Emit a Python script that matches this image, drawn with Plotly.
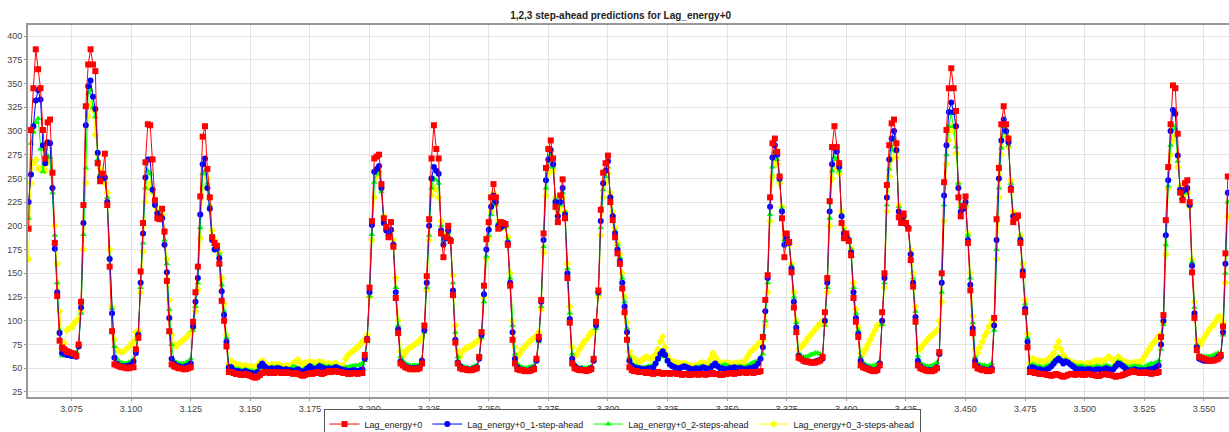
import plotly.graph_objects as go

# ---------------- data ----------------
x_start = 3057  # first observation index (shown as 3.057 in thousands)

tick_vals = [3075, 3100, 3125, 3150, 3175, 3200, 3225, 3250, 3275, 3300,
             3325, 3350, 3375, 3400, 3425, 3450, 3475, 3500, 3525, 3550]
tick_text = ["3.075", "3.100", "3.125", "3.150", "3.175", "3.200", "3.225", "3.250", "3.275", "3.300",
             "3.325", "3.350", "3.375", "3.400", "3.425", "3.450", "3.475", "3.500", "3.525", "3.550"]
y_ticks = [25, 50, 75, 100, 125, 150, 175, 200, 225, 250, 275, 300, 325, 350, 375, 400]

series_names = ["Lag_energy+0", "Lag_energy+0_1-step-ahead",
                "Lag_energy+0_2-steps-ahead", "Lag_energy+0_3-steps-ahead"]

actual = [
    197, 301, 345, 386, 365, 345, 301, 271, 309, 312, 256, 182, 126, 79, 72, 70, 68, 67, 66, 65, 63,
    75, 120, 222, 326, 370, 386, 370, 363, 266, 247, 255, 276, 222, 157, 89, 54, 53, 52, 51, 51, 50, 50, 51, 51,
    70, 82, 152, 203, 267, 307, 306, 270, 227, 208, 207, 218, 194, 142, 89, 54, 52, 51, 50, 50, 49, 49, 50, 51,
    99, 130, 157, 231, 294, 305, 260, 230, 188, 182, 179, 160, 121, 100, 73, 46,
    46, 45, 44, 44, 43, 43, 44, 43, 42, 41, 40, 41, 43, 45, 46, 46, 45, 46, 45, 46, 46, 45, 45, 46,
    45, 45, 44, 45, 44, 43, 42, 43, 44, 45, 44, 45, 46, 45, 44, 45, 46, 47, 46, 47, 47, 46, 46, 45,
    45, 44, 44, 45, 45, 44, 45, 45,
    64, 80, 135, 205, 271, 273, 275, 244, 208, 199, 188, 204, 178, 124, 87, 55, 53, 51, 50, 49, 49, 49, 49, 50,
    55, 95, 147, 207, 271, 306, 281, 271, 192, 167, 188, 200, 184, 127, 77, 55, 50, 49, 49, 48, 48, 48, 49, 50,
    62, 88, 137, 186, 204, 230, 244, 230, 197, 204, 203, 202, 180, 137, 80, 55, 49, 48, 48, 47, 47, 47, 48, 49,
    60, 83, 122, 192, 261, 281, 290, 271, 220, 204, 232, 249, 208, 145, 98, 55, 50, 49, 48, 48, 48, 47, 48, 49,
    60, 99, 132, 217, 256, 266, 274, 225, 206, 188, 171, 160, 134, 109, 80, 51,
    48, 47, 47, 46, 46, 46, 45, 46, 45, 44, 45, 46, 45, 44, 45, 45, 44, 45, 45, 44, 44, 43, 44, 44,
    43, 43, 44, 44, 43, 44, 44, 43, 44, 44, 45, 44, 44, 43, 43, 44, 44, 45, 45, 44, 45, 45, 46, 46,
    45, 46, 46, 45, 46, 46, 47,
    83, 122, 148, 230, 287, 292, 278, 252, 208, 167, 192, 183, 151, 114, 88, 61, 60, 58, 57, 57, 56, 56, 56, 57, 58,
    62, 109, 145, 226, 283, 305, 283, 266, 203, 187, 192, 184, 169, 124, 99, 83, 53, 51, 50, 49, 48, 47, 47, 48,
    53, 109, 150, 243, 285, 308, 312, 287, 209, 203, 213, 203, 197, 164, 136, 99, 53, 50, 49, 48, 47, 47, 47, 48, 50,
    67, 150, 246, 301, 345, 366, 345, 321, 230, 210, 221, 231, 182, 132, 87, 53, 50, 49, 48, 48, 47, 47, 48,
    103, 207, 261, 307, 326, 307, 292, 238, 204, 208, 211, 182, 148, 109, 72, 46,
    46, 45, 45, 44, 44, 44, 43, 43, 42, 43, 44, 43, 42, 41, 42, 43, 44, 44, 43, 44, 44, 43, 43, 44,
    44, 43, 43, 42, 42, 43, 44, 44, 43, 43, 42, 41, 42, 42, 43, 44, 45, 46, 47, 46, 46, 45, 45, 46,
    45, 45, 44, 45, 45, 46,
    83, 106, 206, 262, 307, 348, 345, 297, 235, 227, 245, 248, 225, 151, 103, 69, 62, 61, 60, 59, 58, 58, 58, 59, 60,
    64, 94, 171, 252,
]

step1 = [
    225, 254, 305, 332, 343, 333, 285, 266, 288, 287, 240, 176, 130, 87, 66, 65, 64, 64, 63, 63, 62,
    73, 114, 203, 306, 347, 353, 336, 323, 277, 251, 250, 251, 225, 165, 108, 61, 55, 53, 52, 52, 52, 53, 54, 57,
    66, 85, 140, 192, 251, 270, 270, 238, 222, 213, 210, 208, 180, 151, 103, 60, 55, 53, 52, 51, 51, 52, 53, 55,
    94, 120, 145, 212, 265, 271, 240, 218, 185, 175, 176, 166, 131, 106, 78, 51,
    51, 48, 47, 47, 46, 46, 47, 46, 45, 45, 44, 46, 52, 55, 52, 50, 49, 50, 49, 50, 50, 49, 48, 49,
    48, 48, 47, 48, 49, 47, 46, 48, 50, 52, 50, 49, 50, 52, 51, 50, 49, 50, 49, 50, 51, 50, 49, 48,
    48, 47, 47, 48, 48, 47, 48, 49,
    60, 81, 130, 201, 257, 260, 263, 240, 203, 195, 190, 196, 180, 130, 91, 57, 54, 52, 51, 50, 50, 50, 50, 51,
    58, 90, 140, 200, 250, 262, 258, 255, 195, 180, 187, 195, 185, 132, 80, 56, 52, 50, 49, 49, 48, 49, 50, 51,
    60, 85, 128, 175, 196, 220, 232, 225, 200, 198, 200, 201, 182, 140, 88, 60, 51, 49, 48, 48, 47, 48, 49, 50,
    58, 80, 120, 185, 248, 270, 280, 265, 225, 210, 225, 240, 212, 150, 102, 60, 52, 50, 49, 49, 48, 48, 49, 50,
    58, 95, 130, 205, 245, 258, 268, 230, 210, 192, 175, 163, 140, 115, 88, 58,
    53, 51, 50, 50, 49, 49, 49, 50, 50, 51, 55, 60, 65, 68, 64, 58, 54, 52, 51, 50, 50, 51, 52, 51,
    50, 49, 49, 50, 49, 50, 51, 50, 49, 50, 53, 55, 52, 50, 50, 49, 49, 50, 50, 51, 50, 50, 50, 49,
    49, 50, 50, 51, 52, 55, 60,
    72, 110, 145, 220, 272, 285, 275, 250, 215, 180, 188, 182, 155, 120, 93, 63, 60, 58, 57, 57, 56, 56, 57, 58, 59,
    60, 100, 140, 215, 265, 282, 278, 262, 210, 192, 190, 185, 172, 130, 103, 86, 58, 53, 51, 50, 49, 48, 48, 49,
    55, 100, 145, 230, 270, 292, 300, 280, 215, 205, 210, 202, 198, 170, 140, 104, 58, 52, 50, 49, 48, 48, 48, 49, 51,
    65, 140, 232, 285, 320, 330, 320, 305, 240, 215, 218, 225, 185, 138, 92, 58, 52, 50, 49, 49, 48, 48, 50,
    95, 185, 250, 290, 312, 300, 288, 240, 210, 208, 210, 185, 152, 113, 78, 50,
    51, 50, 49, 49, 48, 48, 49, 50, 52, 55, 58, 60, 58, 55, 57, 56, 54, 52, 50, 49, 49, 49, 48, 49,
    49, 48, 48, 49, 49, 48, 49, 50, 49, 48, 49, 52, 55, 54, 52, 50, 48, 48, 48, 49, 48, 48, 48, 48,
    48, 49, 49, 50, 51, 53,
    75, 100, 190, 248, 300, 322, 318, 274, 238, 228, 238, 240, 222, 158, 108, 72, 60, 59, 58, 58, 58, 58, 59, 60, 62,
    62, 88, 160, 235,
]

step2 = [
    208, 287, 299, 309, 313, 281, 257, 281, 274, 272, 235, 190, 140, 90, 63, 65, 66, 66, 66, 66, 67,
    75, 108, 191, 261, 340, 343, 325, 315, 270, 255, 252, 250, 230, 167, 113, 73, 60, 57, 56, 55, 55, 56, 57, 60,
    70, 88, 135, 182, 240, 258, 255, 240, 225, 215, 212, 210, 185, 160, 112, 75, 58, 56, 55, 55, 55, 56, 57, 60,
    90, 115, 140, 198, 255, 258, 245, 222, 190, 180, 178, 170, 138, 110, 82, 52,
    52, 50, 49, 49, 48, 48, 49, 48, 47, 47, 46, 48, 50, 52, 51, 50, 50, 51, 50, 51, 51, 50, 49, 50,
    49, 50, 52, 51, 50, 49, 48, 50, 51, 53, 52, 51, 52, 54, 53, 52, 51, 52, 51, 52, 52, 51, 50, 50,
    51, 51, 52, 52, 53, 53, 54, 55,
    58, 78, 126, 191, 246, 255, 258, 236, 205, 197, 192, 195, 182, 135, 95, 62, 58, 55, 54, 53, 53, 53, 53, 54,
    60, 88, 135, 190, 240, 250, 248, 245, 200, 185, 188, 193, 185, 140, 88, 62, 54, 52, 51, 51, 50, 51, 52, 53,
    62, 82, 120, 168, 190, 212, 225, 222, 203, 198, 199, 200, 185, 145, 95, 65, 55, 52, 51, 50, 50, 51, 52, 53,
    58, 78, 115, 178, 240, 262, 275, 262, 228, 212, 222, 235, 215, 155, 108, 65, 55, 52, 51, 51, 50, 50, 51, 52,
    58, 92, 128, 198, 238, 252, 262, 232, 212, 195, 180, 167, 145, 120, 92, 62,
    55, 53, 52, 51, 51, 51, 51, 52, 52, 53, 56, 59, 62, 65, 62, 57, 54, 53, 52, 51, 51, 52, 52, 52,
    51, 50, 50, 51, 51, 52, 52, 51, 51, 52, 54, 55, 53, 52, 53, 54, 53, 52, 51, 51, 51, 52, 52, 51,
    52, 53, 55, 56, 57, 58, 60,
    65, 100, 140, 212, 262, 278, 270, 248, 218, 185, 186, 182, 158, 125, 98, 66, 63, 62, 62, 63, 64, 65, 66, 66, 65,
    63, 95, 135, 208, 258, 272, 270, 258, 212, 195, 190, 186, 175, 135, 108, 90, 62, 56, 54, 53, 52, 52, 53, 54,
    57, 96, 140, 222, 260, 280, 290, 278, 220, 207, 209, 203, 198, 172, 145, 110, 63, 56, 54, 53, 52, 52, 53, 54, 56,
    65, 130, 222, 275, 305, 318, 305, 283, 245, 220, 218, 222, 190, 145, 98, 62, 55, 54, 53, 53, 52, 53, 55,
    90, 175, 240, 282, 305, 298, 285, 245, 212, 208, 210, 188, 155, 118, 82, 52,
    54, 53, 52, 52, 51, 51, 52, 53, 55, 58, 60, 62, 60, 58, 59, 57, 55, 54, 53, 52, 52, 52, 51, 51,
    51, 51, 51, 52, 52, 51, 52, 53, 52, 51, 52, 54, 57, 56, 54, 53, 51, 51, 52, 52, 52, 52, 51, 51,
    53, 54, 55, 55, 56, 58,
    70, 96, 180, 242, 285, 306, 302, 268, 240, 230, 235, 238, 222, 162, 114, 75, 64, 63, 62, 62, 62, 63, 64, 65, 66,
    65, 85, 150, 225,
]

step3 = [
    165, 245, 266, 270, 261, 259, 262, 258, 268, 266, 240, 200, 160, 110, 70, 76, 90, 92, 93, 97, 100,
    102, 110, 175, 245, 315, 328, 322, 296, 275, 260, 250, 245, 235, 175, 115, 80, 70, 68, 67, 68, 70, 72, 75, 78,
    88, 90, 130, 173, 225, 240, 245, 235, 222, 217, 214, 212, 195, 165, 122, 85, 75, 73, 76, 78, 80, 82, 85, 88,
    92, 110, 133, 187, 240, 255, 250, 230, 195, 185, 180, 172, 145, 118, 85, 55,
    58, 55, 54, 53, 53, 52, 53, 52, 51, 52, 51, 53, 56, 58, 56, 54, 53, 54, 53, 54, 54, 53, 52, 53,
    52, 53, 55, 57, 59, 56, 54, 56, 55, 57, 56, 55, 56, 57, 56, 55, 54, 55, 54, 55, 55, 53, 52, 53,
    60, 64, 66, 68, 70, 72, 75, 78,
    80, 85, 125, 185, 230, 252, 255, 240, 210, 200, 195, 195, 185, 145, 100, 68, 62, 66, 70, 72, 73, 75, 77, 79,
    82, 95, 132, 185, 232, 240, 238, 230, 205, 190, 190, 195, 186, 148, 95, 68, 62, 68, 70, 72, 73, 74, 76, 78,
    80, 88, 125, 165, 188, 215, 235, 230, 205, 200, 198, 198, 188, 150, 100, 72, 62, 65, 70, 72, 75, 78, 80, 82,
    84, 88, 112, 172, 232, 255, 268, 258, 230, 215, 220, 230, 215, 160, 115, 72, 62, 65, 70, 74, 78, 80, 84, 88,
    88, 95, 125, 190, 230, 245, 255, 235, 215, 198, 182, 170, 150, 125, 98, 68,
    62, 60, 58, 57, 58, 60, 62, 61, 60, 62, 65, 70, 78, 83, 72, 63, 58, 57, 56, 56, 55, 55, 55, 54,
    53, 53, 52, 53, 54, 55, 56, 55, 54, 60, 66, 62, 58, 56, 55, 55, 56, 55, 54, 55, 55, 56, 56, 55,
    60, 64, 68, 70, 72, 75, 78,
    80, 95, 130, 205, 252, 268, 265, 245, 220, 190, 185, 180, 160, 130, 100, 70, 72, 75, 78, 82, 85, 88, 91, 94, 97,
    100, 98, 130, 200, 250, 262, 262, 255, 215, 198, 190, 187, 176, 140, 112, 93, 66, 65, 70, 75, 80, 85, 90, 95,
    96, 98, 135, 215, 252, 270, 280, 272, 222, 208, 208, 203, 198, 175, 150, 115, 70, 70, 74, 77, 80, 83, 85, 87, 90,
    100, 120, 205, 265, 290, 305, 299, 276, 245, 222, 218, 220, 192, 150, 105, 70, 66, 72, 78, 84, 88, 94, 100,
    100, 165, 230, 275, 298, 295, 283, 248, 215, 209, 209, 190, 160, 122, 86, 55,
    60, 59, 58, 58, 57, 57, 58, 60, 62, 66, 72, 78, 70, 64, 60, 58, 57, 56, 55, 55, 55, 54, 54, 55,
    55, 56, 57, 58, 58, 57, 58, 60, 62, 60, 58, 59, 62, 60, 58, 57, 56, 55, 55, 56, 56, 57, 58, 62,
    66, 70, 74, 77, 80, 84,
    85, 98, 170, 239, 275, 290, 295, 262, 242, 232, 233, 235, 220, 165, 120, 80, 74, 78, 82, 86, 90, 93, 96, 100, 104,
    104, 98, 140, 210,
]

# ---------------- styling ----------------
colors = ["#FF0000", "#0000FF", "#00FF00", "#FFFF00"]
symbols = ["square", "circle", "triangle-up", "diamond"]
sizes = [6, 6, 6, 6]
values = [actual, step1, step2, step3]


def x_positions(vals):
    return [x_start + i for i in range(len(vals))]


fig = go.Figure()
# draw the last series first so the actual values end up on top
for k in [3, 2, 1, 0]:
    vals = values[k]
    fig.add_trace(go.Scatter(
        x=x_positions(vals), y=vals, name=series_names[k],
        mode="lines+markers",
        line=dict(color=colors[k], width=1),
        marker=dict(symbol=symbols[k], size=sizes[k], color=colors[k], line=dict(width=0)),
        legendrank=k + 1,
    ))

font_family = "Liberation Sans, Arial, sans-serif"

fig.update_layout(
    width=1229, height=432,
    margin=dict(l=28, r=0, t=25, b=35, autoexpand=False),
    paper_bgcolor="white", plot_bgcolor="white",
    title=dict(text="<b>1,2,3 step-ahead predictions for Lag_energy+0</b>",
               x=0.505, xanchor="center", xref="container",
               y=1 - 15 / 432, yanchor="middle", yref="container",
               font=dict(family=font_family, size=10, color="#222222")),
    showlegend=True,
    legend=dict(orientation="h", x=0.4946, xanchor="center", y=-0.031, yanchor="top",
                bordercolor="#555555", borderwidth=1, bgcolor="white",
                font=dict(family=font_family, size=9, color="#222222"),
                itemwidth=30, tracegroupgap=0),
    font=dict(family=font_family, size=9, color="#444444"),
    hovermode=False,
)

fig.update_xaxes(
    range=[3056.75, 3560.5], tickmode="array", tickvals=tick_vals, ticktext=tick_text,
    showgrid=True, gridcolor="#e4e4e4", gridwidth=1,
    showline=True, linecolor="#9a9a9a", linewidth=2, mirror=True,
    ticks="outside", ticklen=2, tickcolor="#9a9a9a",
    tickfont=dict(size=9, color="#444444"), zeroline=False, automargin=False,
)
fig.update_yaxes(
    range=[19.7, 411.6], tickmode="array", tickvals=y_ticks,
    showgrid=True, gridcolor="#e4e4e4", gridwidth=1,
    showline=True, linecolor="#9a9a9a", linewidth=2,
    ticks="outside", ticklen=2, tickcolor="#9a9a9a",
    tickfont=dict(size=9, color="#444444"), zeroline=False, automargin=False,
)

fig.write_html("out.html",
               config={"displayModeBar": False},
               post_script="document.body.style.margin='0px';document.body.style.overflow='hidden';")
